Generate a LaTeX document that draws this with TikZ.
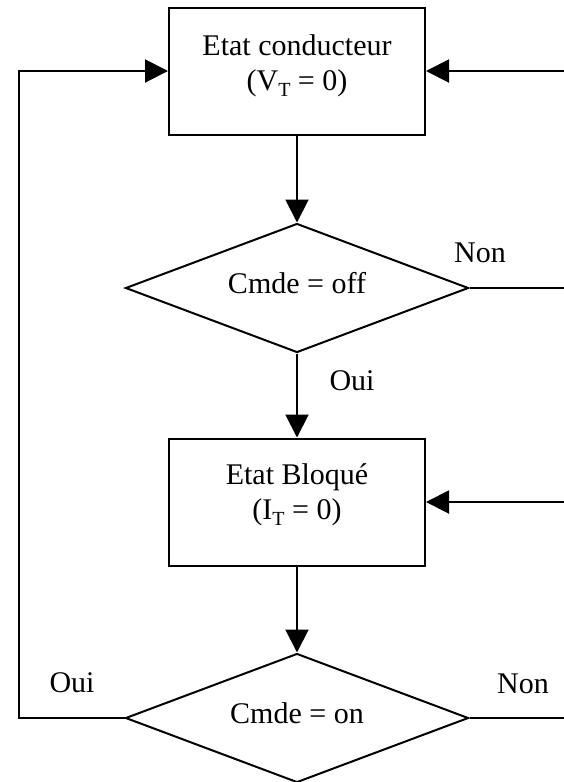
\documentclass[tikz,border=0pt]{standalone}
\usepackage{fontspec}
\setmainfont{Liberation Serif}
\usetikzlibrary{shapes.geometric,arrows.meta}
\newcommand\lowidx[1]{\raisebox{-6pt}{\fontsize{20}{20}\selectfont #1}}
\begin{document}
\begin{tikzpicture}[x=1pt,y=-1pt,
  line width=2pt,
  txt/.style={font=\fontsize{30}{35}\selectfont, inner sep=0pt, align=center},
  statebox/.style={draw, rectangle, minimum width=256pt, minimum height=127pt, inner sep=0pt},
  test/.style={draw, diamond, minimum width=343pt, minimum height=129pt, inner sep=0pt},
  arr/.style={-{Triangle[length=23pt,width=23pt]}}]
\useasboundingbox (0,0) rectangle (564,782);

% states
\node[statebox] (b1) at (297,71) {};
\node[txt] (t1) at (297,65.5) {Etat conducteur\\(V\lowidx{T} = 0)};
\node[statebox] (b2) at (297,502) {};
\node[txt] (t2) at (297,494.5) {Etat Bloqué\\(I\lowidx{T} = 0)};

% tests
\node[test] (d1) at (297,288) {};
\node[txt] (t3) at (297,283) {Cmde = off};
\node[test] (d2) at (297,718) {};
\node[txt] (t4) at (297,713) {Cmde = on};

% branch labels
\node[txt] (n1) at (480,252.5) {Non};
\node[txt] (o1) at (352,381) {Oui};
\node[txt] (o2) at (72,683) {Oui};
\node[txt] (n2) at (523,684) {Non};

% loose ends at the right border and loop corner
\coordinate (r1) at (564,71);
\coordinate (r2) at (564,288);
\coordinate (r3) at (564,502);
\coordinate (r4) at (564,718);
\coordinate (lc) at (19,718);

% connectors
\draw[arr] (b1.south) -- (d1.north);
\draw[arr] (d1.south) -- (b2.north);
\draw[arr] (b2.south) -- (d2.north);
\draw[arr] (r1) -- (b1.east);
\draw[arr] (r3) -- (b2.east);
\draw (d1.east) -- (r2);
\draw (d2.east) -- (r4);
\draw[arr] (d2.west) -- (lc) |- (b1.west);
\end{tikzpicture}
\end{document}
